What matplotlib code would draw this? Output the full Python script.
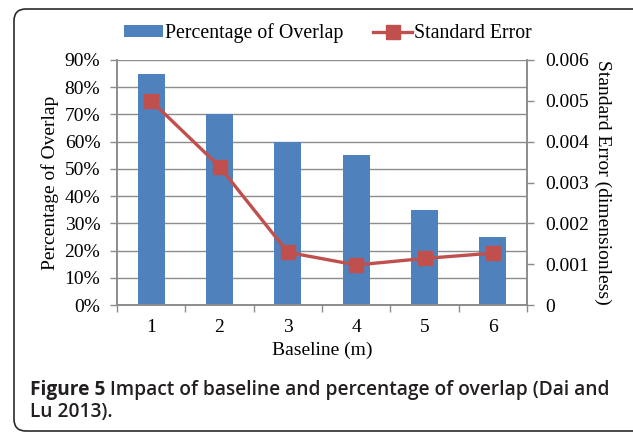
import matplotlib
matplotlib.use("Agg")
import matplotlib.pyplot as plt
from matplotlib.patches import Patch, FancyBboxPatch
from matplotlib.lines import Line2D
from matplotlib.ticker import FixedLocator

baselines = [1, 2, 3, 4, 5, 6]
overlap_pct = [85, 70, 60, 55, 35, 25]
std_error = [0.0050, 0.00339, 0.00129, 0.00098, 0.00114, 0.00127]
left_ticks = [0, 10, 20, 30, 40, 50, 60, 70, 80, 90]
right_ticks = [0, 0.001, 0.002, 0.003, 0.004, 0.005, 0.006]
right_tick_labels = ["0", "0.001", "0.002", "0.003", "0.004", "0.005", "0.006"]

BLUE = "#4F81BD"
RED = "#C0504D"
GRID = "#8C8C8C"
SERIF = ["Liberation Serif", "DejaVu Serif"]
FS = 14

W, H = 633, 433
fig = plt.figure(figsize=(W / 100, H / 100), dpi=100)
fig.patch.set_facecolor("white")

# Frame around figure (rounded), right side runs off the canvas
frame = FancyBboxPatch((0.14, 0.02), 7.0, 4.22,
                       boxstyle="round,pad=0,rounding_size=0.12",
                       transform=fig.dpi_scale_trans, fill=False,
                       edgecolor="#2b2b2b", linewidth=1.2, zorder=0)
fig.patches.append(frame)

ax = fig.add_axes([117 / W, (H - 305) / H, 410 / W, 245 / H])
ax.bar(baselines, overlap_pct, width=0.4, color=BLUE, zorder=2)
ax.set_xlim(0.5, 6.5)
ax.set_ylim(0, 90)
ax.set_yticks(left_ticks)
ax.set_yticklabels([f"{v}%" for v in left_ticks], family=SERIF, fontsize=FS)
ax.set_xticks(baselines)
ax.set_xticklabels([str(b) for b in baselines], family=SERIF, fontsize=FS)
ax.xaxis.set_minor_locator(FixedLocator([0.5, 1.5, 2.5, 3.5, 4.5, 5.5, 6.5]))
ax.tick_params(axis="x", which="major", length=0, pad=10)
ax.tick_params(axis="x", which="minor", length=5, color=GRID, width=1)
ax.tick_params(axis="y", length=5, color=GRID, width=1, pad=7)
ax.set_axisbelow(True)
ax.yaxis.grid(True, color=GRID, linewidth=1)
for s in ax.spines.values():
    s.set_color(GRID)
    s.set_linewidth(1.2)
ax.spines["top"].set_visible(False)
ax.set_ylabel("Percentage of Overlap", family=SERIF, fontsize=FS, labelpad=4)
ax.set_xlabel("Baseline (m)", family=SERIF, fontsize=FS, labelpad=4)

ax2 = ax.twinx()
ax2.plot(baselines, std_error, color=RED, linewidth=2.4, marker="s",
         markersize=10, markerfacecolor=RED, markeredgecolor=RED, zorder=3)
ax2.set_ylim(0, 0.006)
ax2.set_yticks(right_ticks)
ax2.set_yticklabels(right_tick_labels, family=SERIF, fontsize=FS)
ax2.tick_params(axis="y", length=5, color=GRID, width=1, pad=8)
for s in ax2.spines.values():
    s.set_color(GRID)
    s.set_linewidth(1.2)
ax2.spines["top"].set_visible(False)
ax2.set_ylabel("Standard Error (dimensionless)", family=SERIF, fontsize=FS,
               rotation=270, labelpad=16)

handles = [Patch(facecolor=BLUE, edgecolor="none"),
           Line2D([0], [0], color=RED, linewidth=2.4, marker="s", markersize=10)]
leg = fig.legend(handles, ["Percentage of Overlap", "Standard Error"],
                 loc="center", bbox_to_anchor=(328 / W, 1 - 33 / H), ncol=2,
                 frameon=False, prop={"family": SERIF, "size": 14.3},
                 handlelength=1.95, handleheight=0.5, handletextpad=0.1,
                 columnspacing=1.5)

# Caption
fig.canvas.draw()
renderer = fig.canvas.get_renderer()
cap_font = ["Open Sans", "DejaVu Sans"]
CFS = 13.8
t1 = fig.text(30 / W, 1 - 395 / H, "Figure 5", family=cap_font, fontsize=CFS,
              fontweight="bold", color="#231f20", va="baseline")
bb = t1.get_window_extent(renderer)
fig.text((bb.x1 + 5) / W, 1 - 395 / H,
         "Impact of baseline and percentage of overlap (Dai and",
         family=cap_font, fontsize=CFS, fontweight="semibold",
         color="#231f20", va="baseline")
fig.text(30 / W, 1 - 417 / H, "Lu 2013).", family=cap_font, fontsize=CFS,
         fontweight="semibold", color="#231f20", va="baseline")

fig.savefig("out.png", dpi=100)
